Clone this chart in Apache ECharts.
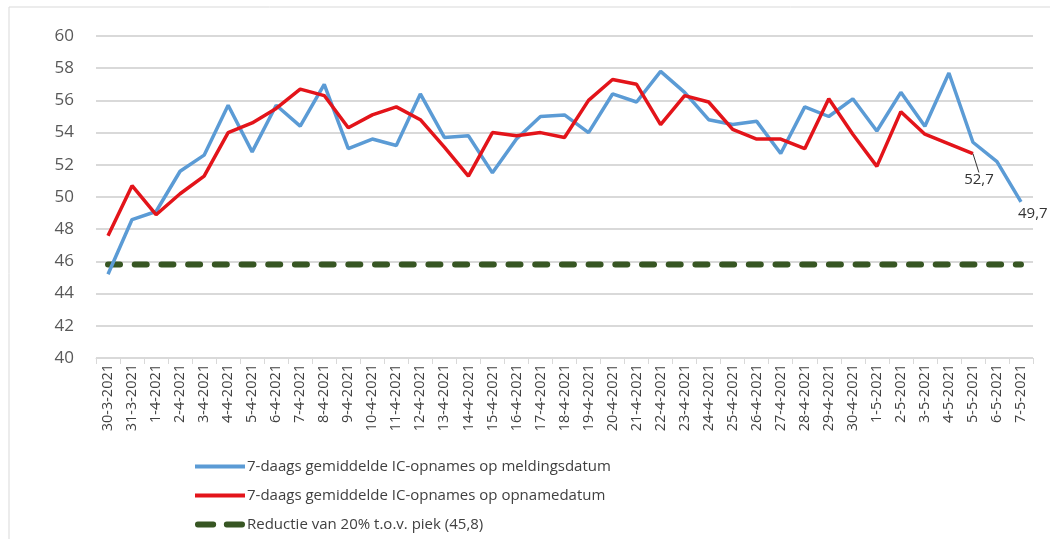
<!DOCTYPE html>
<html>
<head>
<meta charset="utf-8">
<script src="https://cdn.jsdelivr.net/npm/echarts@6/dist/echarts.min.js"></script>
<style>html,body{margin:0;padding:0;background:#fff;}#c{width:1050px;height:539px;}</style>
</head>
<body>
<div id="c"></div>
<script>
const categories = ['30-3-2021','31-3-2021','1-4-2021','2-4-2021','3-4-2021','4-4-2021','5-4-2021','6-4-2021','7-4-2021','8-4-2021','9-4-2021','10-4-2021','11-4-2021','12-4-2021','13-4-2021','14-4-2021','15-4-2021','16-4-2021','17-4-2021','18-4-2021','19-4-2021','20-4-2021','21-4-2021','22-4-2021','23-4-2021','24-4-2021','25-4-2021','26-4-2021','27-4-2021','28-4-2021','29-4-2021','30-4-2021','1-5-2021','2-5-2021','3-5-2021','4-5-2021','5-5-2021','6-5-2021','7-5-2021'];
const meldingsdatum = [45.2,48.6,49.1,51.6,52.6,55.7,52.8,55.7,54.4,57.0,53.0,53.6,53.2,56.4,53.7,53.8,51.5,53.6,55.0,55.1,54.0,56.4,55.9,57.8,56.5,54.8,54.5,54.7,52.7,55.6,55.0,56.1,54.1,56.5,54.4,57.7,53.4,52.2,49.7];
const opnamedatum = [47.6,50.7,48.9,50.2,51.3,54.0,54.6,55.5,56.7,56.3,54.3,55.1,55.6,54.8,53.1,51.3,54.0,53.8,54.0,53.7,56.0,57.3,57.0,54.5,56.3,55.9,54.2,53.6,53.6,53.0,56.1,53.9,51.9,55.3,53.9,53.3,52.7];
const reductieValue = 45.8;
const yTicks = {min: 40, max: 60, interval: 2};

const reductie = categories.map(() => reductieValue);
const fmt = v => String(v.toFixed(1)).replace('.', ',');

const blueData = meldingsdatum.map((v, i) => i === meldingsdatum.length - 1
  ? {value: v, label: {show: true, position: 'right', offset: [-8, 12], formatter: p => fmt(p.value)}}
  : v);
const redData = opnamedatum.map((v, i) => i === opnamedatum.length - 1
  ? {value: v, label: {show: true, position: 'bottom', formatter: p => fmt(p.value)}}
  : v);

const chart = echarts.init(document.getElementById('c'), null, {renderer: 'canvas'});
const font = "'Open Sans', 'Noto Sans', sans-serif";
const lineIcon = 'path://M0,0h50v4h-50z';
const dashIcon = 'path://M2,0h16a2,2 0 0 1 0,6h-16a2,2 0 0 1 0,-6z M32,0h16a2,2 0 0 1 0,6h-16a2,2 0 0 1 0,-6z';
chart.setOption({
  animation: false,
  backgroundColor: '#fff',
  graphic: [{
    type: 'rect', shape: {x: 9, y: 7, width: 1060, height: 560},
    style: {fill: 'none', stroke: '#d9d9d9', lineWidth: 1}, silent: true, z: -10
  }],
  grid: {left: 96, right: 17, top: 36, bottom: 181, containLabel: false},
  legend: {
    orient: 'vertical', left: 190, top: 454, itemGap: 14, itemWidth: 50, itemHeight: 16,
    textStyle: {color: '#404040', fontSize: 15, fontFamily: font, padding: [0, 0, 0, -3]},
    data: [
      {name: '7-daags gemiddelde IC-opnames op meldingsdatum', icon: lineIcon, itemStyle: {color: '#5b9bd5'}},
      {name: '7-daags gemiddelde IC-opnames op opnamedatum', icon: lineIcon, itemStyle: {color: '#e3141a'}},
      {name: 'Reductie van 20% t.o.v. piek (45,8)', icon: dashIcon, itemStyle: {color: '#375623'}}
    ]
  },
  xAxis: {
    type: 'category', data: categories, boundaryGap: true,
    axisLine: {lineStyle: {color: '#d9d9d9', width: 1}},
    axisTick: {show: true, length: 6, lineStyle: {color: '#d9d9d9'}},
    axisLabel: {rotate: 90, interval: 0, color: '#404040', fontSize: 14.5, fontFamily: font, margin: 6}
  },
  yAxis: {
    type: 'value', min: yTicks.min, max: yTicks.max, interval: yTicks.interval,
    axisLine: {show: false}, axisTick: {show: false},
    axisLabel: {color: '#595959', fontSize: 17, fontFamily: font, margin: 22},
    splitLine: {lineStyle: {color: '#d9d9d9', width: 2}}
  },
  series: [
    {
      name: '7-daags gemiddelde IC-opnames op meldingsdatum', type: 'line', data: blueData,
      symbol: 'circle', symbolSize: 0.01, showSymbol: true, lineStyle: {color: '#5b9bd5', width: 3.5}, itemStyle: {color: '#5b9bd5'},
      label: {color: '#333', fontSize: 15, fontFamily: font}, z: 3
    },
    {
      name: '7-daags gemiddelde IC-opnames op opnamedatum', type: 'line', data: redData,
      symbol: 'circle', symbolSize: 0.01, showSymbol: true, lineStyle: {color: '#e3141a', width: 3.5}, itemStyle: {color: '#e3141a'},
      label: {color: '#333', fontSize: 15, fontFamily: font},
      labelLine: {show: true, lineStyle: {color: '#333', width: 1}},
      labelLayout: {dx: 6, dy: 14}, z: 4
    },
    {
      name: 'Reductie van 20% t.o.v. piek (45,8)', type: 'line', data: reductie,
      symbol: 'none', lineStyle: {color: '#375623', width: 6, type: [12, 14.7], cap: 'round'},
      itemStyle: {color: '#375623'}, z: 2
    }
  ]
});
</script>
</body>
</html>
